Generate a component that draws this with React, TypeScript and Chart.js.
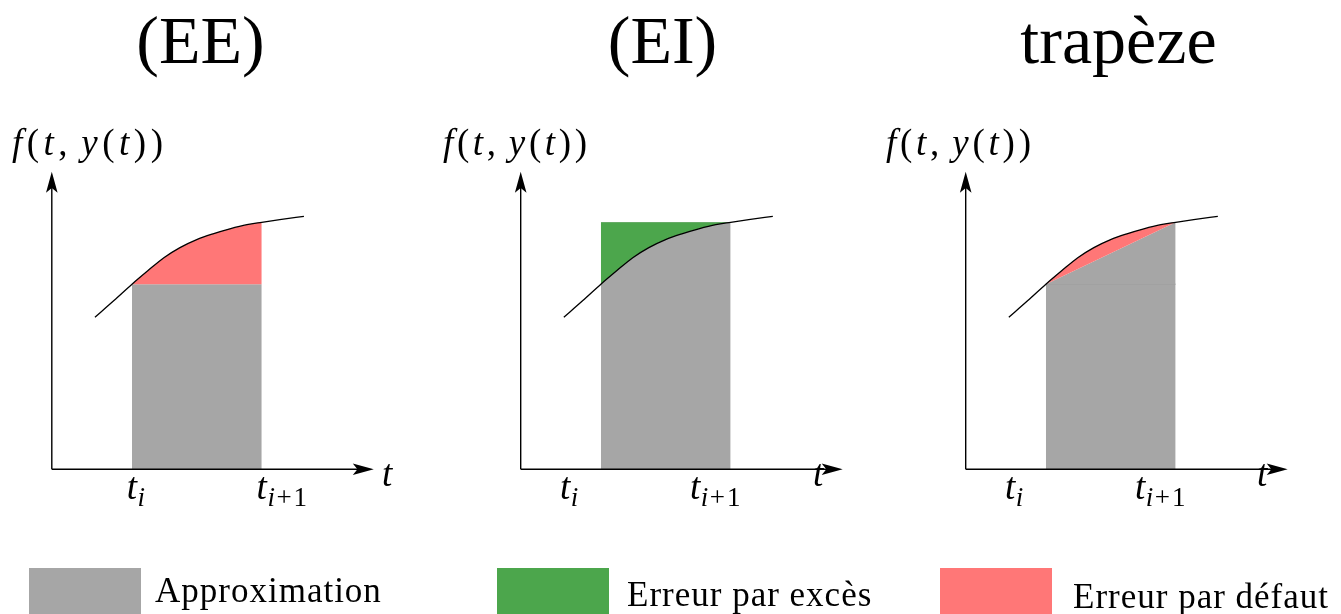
import { useEffect, useRef } from "react";
import { Chart, registerables } from "chart.js";

Chart.register(...registerables);

// Points read along the curve t -> f(t, y(t))
const curveT = [1.34, 1.93, 2.49, 2.98, 3.48, 3.98, 4.5, 5.03, 5.53, 6.06, 6.52, 7.08, 7.83];
const curveF = [5.11, 5.67, 6.22, 6.67, 7.11, 7.45, 7.72, 7.92, 8.08, 8.22, 8.3, 8.39, 8.5];

// One step [t_i, t_{i+1}] and the values of f at both ends
const stepT = [2.49, 6.52];
const stepF = [6.22, 8.3];

// Where the t_i and t_{i+1} labels sit on the t axis of each panel
const tickValuesEE = [2.49, 6.52];
const tickValuesEI = [1.38, 5.42];
const tickValuesTrap = [1.38, 5.42];
const tickSubscripts = [["i"], ["i", "+1"]];

const methodTitles = ["(EE)", "(EI)", "trapèze"];
const legendLabels = ["Approximation", "Erreur par excès", "Erreur par défaut"];

const T_MAX = 10;
const F_MAX = 10;

const GRAY = "#a6a6a6";
const GREEN = "#4ca64c";
const RED = "#ff7777";

// Page geometry
const H = 614;
const AXIS_Y = 469.3;
const TOP_Y = 171.7;
const T_LEN = 322;

type Kind = "EE" | "EI" | "trap";
type Panel = {
  kind: Kind;
  title: string;
  left: number;
  width: number;
  axisX: number;
  titleX: number;
  fLabelX: number;
  fLabelW: number;
  tLabelX: number;
  ticks: number[];
  legend: { label: string; color: string; boxX: number; textX: number; baseline: number };
};

const panels: Panel[] = [
  {
    kind: "EE",
    title: methodTitles[0],
    left: 0,
    width: 430,
    axisX: 51.8,
    titleX: 200.5,
    fLabelX: 12,
    fLabelW: 151,
    tLabelX: 382,
    ticks: tickValuesEE,
    legend: { label: legendLabels[0], color: GRAY, boxX: 29, textX: 155, baseline: 602 },
  },
  {
    kind: "EI",
    title: methodTitles[1],
    left: 430,
    width: 450,
    axisX: 520.7,
    titleX: 662.5,
    fLabelX: 443,
    fLabelW: 144,
    tLabelX: 813,
    ticks: tickValuesEI,
    legend: { label: legendLabels[1], color: GREEN, boxX: 497, textX: 627, baseline: 606 },
  },
  {
    kind: "trap",
    title: methodTitles[2],
    left: 880,
    width: 461,
    axisX: 965.7,
    titleX: 1118.5,
    fLabelX: 886,
    fLabelW: 145,
    tLabelX: 1257,
    ticks: tickValuesTrap,
    legend: { label: legendLabels[2], color: RED, boxX: 940, textX: 1073, baseline: 608 },
  },
];

const pts = (xs: number[], ys: number[]) => xs.map((x, i) => ({ x, y: ys[i] }));

function datasetsFor(kind: Kind) {
  const curve = (color: string) => ({
    data: pts(curveT, curveF),
    borderColor: "#000",
    borderWidth: 1.3,
    cubicInterpolationMode: "monotone" as const,
    pointRadius: 0,
    fill: 1,
    backgroundColor: color,
  });
  const flat = {
    borderColor: "rgba(0,0,0,0)",
    borderWidth: 0,
    pointRadius: 0,
    tension: 0,
    backgroundColor: GRAY,
  };
  if (kind === "EE") {
    return [curve(RED), { ...flat, data: pts(stepT, [stepF[0], stepF[0]]), fill: "origin" }];
  }
  if (kind === "EI") {
    return [curve(GREEN), { ...flat, data: pts(stepT, [stepF[1], stepF[1]]), fill: "origin" }];
  }
  return [
    curve(RED),
    { ...flat, data: pts(stepT, stepF), fill: { value: stepF[0] } },
    {
      ...flat,
      data: pts(stepT, [stepF[0], stepF[0]]),
      fill: "origin",
      borderColor: "rgba(130,130,130,0.7)",
      borderWidth: 1,
    },
  ];
}

const IT = 'italic 37px "Liberation Serif"';
const UP = '37px "Liberation Serif"';
const IT_SUB = 'italic 27px "Liberation Serif"';
const UP_SUB = '27px "Liberation Serif"';

function arrowHead(ctx: CanvasRenderingContext2D, tx: number, ty: number, dx: number, dy: number) {
  const L = 21;
  const W = 5.8;
  const nx = -dy;
  const ny = dx;
  const bx = tx - L * dx;
  const by = ty - L * dy;
  const mx = tx - 0.78 * L * dx;
  const my = ty - 0.78 * L * dy;
  ctx.beginPath();
  ctx.moveTo(tx, ty);
  ctx.lineTo(bx + W * nx, by + W * ny);
  ctx.lineTo(mx, my);
  ctx.lineTo(bx - W * nx, by - W * ny);
  ctx.closePath();
  ctx.fill();
}

function drawRuns(
  ctx: CanvasRenderingContext2D,
  runs: [string, string][],
  x: number,
  baseline: number,
  targetWidth?: number
) {
  let natural = 0;
  for (const [txt, font] of runs) {
    ctx.font = font;
    natural += ctx.measureText(txt).width;
  }
  const extra = targetWidth ? (targetWidth - natural) / (runs.length - 1) : 0;
  let cx = x;
  for (const [txt, font] of runs) {
    ctx.font = font;
    ctx.fillText(txt, cx, baseline);
    cx += ctx.measureText(txt).width + extra;
  }
}

function decor(p: Panel) {
  return {
    id: "decor",
    afterDatasetsDraw(chart: Chart) {
      const { ctx } = chart;
      const xs = chart.scales.x;
      const ys = chart.scales.y;
      const ox = xs.getPixelForValue(0);
      const oy = ys.getPixelForValue(0);
      const xe = xs.getPixelForValue(T_MAX);
      const ye = ys.getPixelForValue(F_MAX);

      ctx.save();
      ctx.fillStyle = "#000";
      ctx.strokeStyle = "#000";
      ctx.lineWidth = 1.4;
      ctx.beginPath();
      ctx.moveTo(ox, oy);
      ctx.lineTo(xe - 10, oy);
      ctx.moveTo(ox, oy);
      ctx.lineTo(ox, ye + 10);
      ctx.stroke();
      arrowHead(ctx, xe, oy, 1, 0);
      arrowHead(ctx, ox, ye, 0, -1);

      ctx.textAlign = "left";
      ctx.textBaseline = "alphabetic";

      // f(t, y(t)) above the vertical axis
      drawRuns(
        ctx,
        [
          ["f", IT],
          ["(", UP],
          ["t", IT],
          [",", UP],
          [" y", IT],
          ["(", UP],
          ["t", IT],
          [")", UP],
          [")", UP],
        ],
        p.fLabelX - p.left,
        155,
        p.fLabelW
      );

      // t at the end of the horizontal axis
      ctx.font = IT;
      ctx.fillText("t", p.tLabelX - p.left, 485.5);

      // t_i and t_{i+1}
      p.ticks.forEach((v, k) => {
        const px = xs.getPixelForValue(v);
        ctx.font = IT;
        const wt = ctx.measureText("t").width;
        ctx.fillText("t", px - wt / 2, 499);
        let cx = px + wt / 2 + 0.5;
        for (const part of tickSubscripts[k]) {
          ctx.font = part === "i" ? IT_SUB : UP_SUB;
          (ctx as any).letterSpacing = part === "i" ? "0px" : "2px";
          ctx.fillText(part, cx, 506);
          cx += ctx.measureText(part).width + 1.5;
        }
        (ctx as any).letterSpacing = "0px";
      });

      // method name
      ctx.font = '68px "Liberation Serif"';
      ctx.textAlign = "center";
      ctx.fillText(p.title, p.titleX - p.left, 63);

      // legend entry
      ctx.textAlign = "left";
      ctx.fillStyle = p.legend.color;
      ctx.fillRect(p.legend.boxX - p.left, 568, 112, H - 568);
      ctx.fillStyle = "#000";
      ctx.font = '35px "Liberation Serif"';
      (ctx as any).letterSpacing = "1px";
      ctx.fillText(p.legend.label, p.legend.textX - p.left, p.legend.baseline);
      (ctx as any).letterSpacing = "0px";
      ctx.restore();
    },
  };
}

function MethodPanel({ panel }: { panel: Panel }) {
  const ref = useRef<HTMLCanvasElement>(null);
  useEffect(() => {
    const canvas = ref.current;
    if (!canvas) return;
    const padLeft = panel.axisX - panel.left;
    const chart = new Chart(canvas, {
      type: "line",
      data: { datasets: datasetsFor(panel.kind) as any },
      options: {
        animation: false,
        responsive: false,
        events: [],
        layout: {
          padding: {
            left: padLeft,
            right: panel.width - padLeft - T_LEN,
            top: TOP_Y,
            bottom: H - AXIS_Y,
          },
        },
        scales: {
          x: { type: "linear", min: 0, max: T_MAX, display: false },
          y: { type: "linear", min: 0, max: F_MAX, display: false },
        },
        plugins: {
          legend: { display: false },
          tooltip: { enabled: false },
        },
      },
      plugins: [decor(panel)],
    });
    return () => chart.destroy();
  }, [panel]);
  return (
    <canvas
      ref={ref}
      width={panel.width}
      height={H}
      style={{ position: "absolute", left: panel.left, top: 0, width: panel.width, height: H }}
    />
  );
}

export default function App() {
  return (
    <div
      style={{
        position: "absolute",
        left: 0,
        top: 0,
        width: 1341,
        height: H,
        overflow: "hidden",
        background: "#fff",
      }}
    >
      {panels.map((p) => (
        <MethodPanel key={p.kind} panel={p} />
      ))}
    </div>
  );
}
